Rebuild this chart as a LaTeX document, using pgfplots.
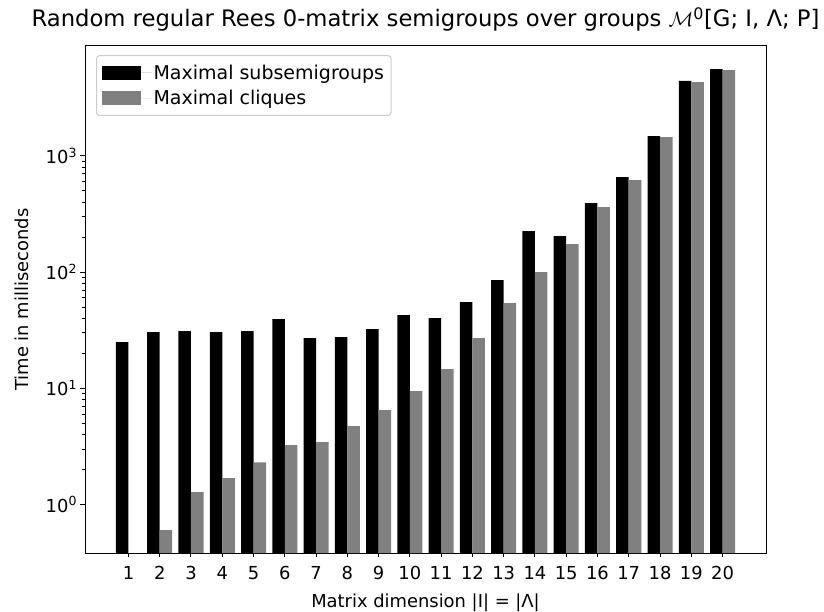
\documentclass[border=0pt]{standalone}
\usepackage{fontspec}
\setmainfont{DejaVu Sans}
\usepackage{pgfplots}
\pgfplotsset{compat=1.18}
\definecolor{mplgray}{HTML}{808080}
\definecolor{legframe}{HTML}{CCCCCC}
\newcommand\tickfont{\fontsize{17.9bp}{21bp}\selectfont}
\newcommand\legfont{\fontsize{19bp}{22bp}\selectfont}
\newcommand\titlefont{\fontsize{22.7bp}{26bp}\selectfont}
\begin{document}
\begin{tikzpicture}
\path[use as bounding box] (0,0) rectangle (824bp,612bp);
\begin{axis}[
  at={(85bp,59bp)}, anchor=south west,
  scale only axis, width=681bp, height=507bp,
  ymode=log, log origin=infty,
  ymin=0.383, ymax=8790, xmin=-0.39, xmax=21.39,
  xtick={1,...,20},
  ytick={1,10,100,1000},
  yticklabels={10\textsuperscript{0},10\textsuperscript{1},10\textsuperscript{2},10\textsuperscript{3}},
  tick pos=left, tick align=outside,
  major tick length=4.5bp, minor tick length=2.6bp,
  axis line style={line width=1bp},
  every tick/.style={black, line width=1bp},
  every minor tick/.style={black, line width=0.8bp},
  tick label style={font=\tickfont},
  xticklabel style={yshift=-5bp},
  /pgf/number format/assume math mode=true,
  xlabel={Matrix dimension |I| = |Λ|},
  ylabel={Time in milliseconds},
  label style={font=\tickfont},
  xlabel style={yshift=-7bp},
  ylabel style={yshift=10bp},
  title={Random regular Rees 0-matrix semigroups over groups $\mathcal{M}$\textsuperscript{0}[G; I, Λ; P]},
  title style={font=\titlefont, at={(0.5,1)}, anchor=south, yshift=5bp},
  legend style={at={(0.0162,0.982)}, anchor=north west, draw=legframe, line width=1bp, rounded corners=3bp, font=\legfont, inner xsep=5bp, inner ysep=7bp, row sep=6bp},
  legend cell align=left,
]
\addplot[ybar, bar width=0.4, bar shift=-0.2, fill=black, draw=none,
  legend image code/.code={\fill[black, sharp corners] (0bp,-7bp) rectangle (39bp,7bp); \path (0bp,0bp) -- (50bp,0bp);}]
  coordinates {
  (1,24.9) (2,30.4) (3,31.0) (4,30.4) (5,31.0) (6,39.3) (7,27.0) (8,27.5) (9,32.3) (10,42.6)
  (11,40.1) (12,55.1) (13,85.2) (14,225) (15,204) (16,392) (17,656) (18,1478) (19,4395) (20,5573)};
\addlegendentry{Maximal subsemigroups}
\addplot[ybar, bar width=0.4, bar shift=0.2, fill=mplgray, draw=none,
  legend image code/.code={\fill[mplgray, sharp corners] (0bp,-7bp) rectangle (39bp,7bp); \path (0bp,0bp) -- (50bp,0bp);}]
  coordinates {
  (2,0.601) (3,1.276) (4,1.684) (5,2.31) (6,3.24) (7,3.44) (8,4.72) (9,6.48) (10,9.44)
  (11,14.6) (12,27.0) (13,54.0) (14,99.8) (15,174) (16,362) (17,618) (18,1449) (19,4304) (20,5456)};
\addlegendentry{Maximal cliques}
\end{axis}
\end{tikzpicture}
\end{document}
